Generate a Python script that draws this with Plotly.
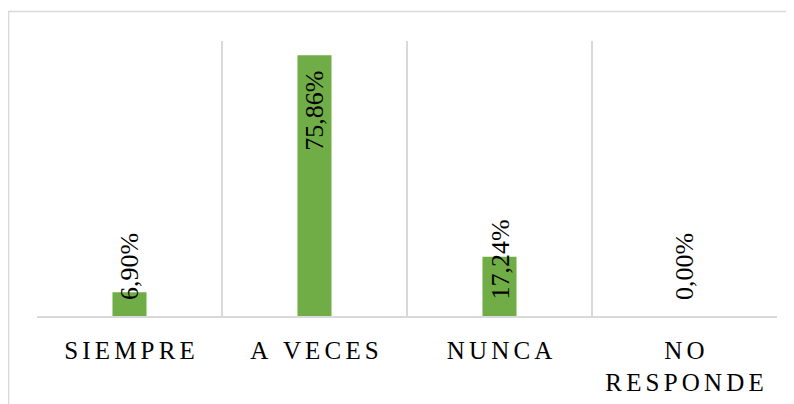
import plotly.graph_objects as go

# Survey answers and their share of responses (%)
categories = ["SIEMPRE", "A VECES", "NUNCA", "NO<br>RESPONDE"]
percentages = [6.90, 75.86, 17.24, 0.00]

GREEN = "#70AD47"
GRID = "#D9D9D9"
SERIF = "Liberation Serif, Times New Roman, serif"


def spaced(label):
    # Excel-style letter spacing using six-per-em spaces
    return "<br>".join("\u2006".join(part) for part in label.split("<br>"))


tick_labels = [spaced(c) for c in categories]

fig = go.Figure(
    go.Bar(
        x=categories,
        y=percentages,
        width=0.184,
        marker=dict(color=GREEN, line=dict(width=0)),
        hoverinfo="skip",
    )
)

# Data labels: inside end for tall bars, anchored near the base otherwise
for cat, val in zip(categories, percentages):
    label = f"{val:.2f}%".replace(".", ",")
    if val > 40:
        fig.add_annotation(
            x=cat, y=val, text=label, textangle=-90, showarrow=False,
            yanchor="top", yshift=-14,
            font=dict(family=SERIF, size=26, color="black"),
        )
    else:
        fig.add_annotation(
            x=cat, y=0, text=label, textangle=-90, showarrow=False,
            yanchor="bottom", yshift=14,
            font=dict(family=SERIF, size=26, color="black"),
        )

# Chart area border (clipped at right and bottom like the original)
fig.add_shape(
    type="rect", xref="paper", yref="paper",
    x0=-0.0385, x1=1.1, y0=-0.5, y1=1.107,
    line=dict(color=GRID, width=1.5), layer="below",
)

# page body has an 8px default margin, so the margins compensate for it
fig.update_layout(
    width=794,
    height=404,
    margin=dict(l=29, r=25, t=33, b=96, autoexpand=False),
    plot_bgcolor="white",
    paper_bgcolor="white",
    showlegend=False,
    xaxis=dict(
        type="category",
        tickmode="array",
        tickvals=categories,
        ticktext=tick_labels,
        tickson="boundaries",
        ticks="",
        showgrid=True,
        gridcolor=GRID,
        gridwidth=1.5,
        showline=True,
        linecolor=GRID,
        linewidth=1.5,
        tickfont=dict(family=SERIF, size=25, color="black"),
        ticklabelstandoff=11,
        automargin=False,
        range=[-0.5, 3.5],
    ),
    yaxis=dict(
        range=[0, 80],
        showgrid=False,
        zeroline=False,
        showticklabels=False,
        showline=False,
        automargin=False,
    ),
)

fig.write_html("out.html")
